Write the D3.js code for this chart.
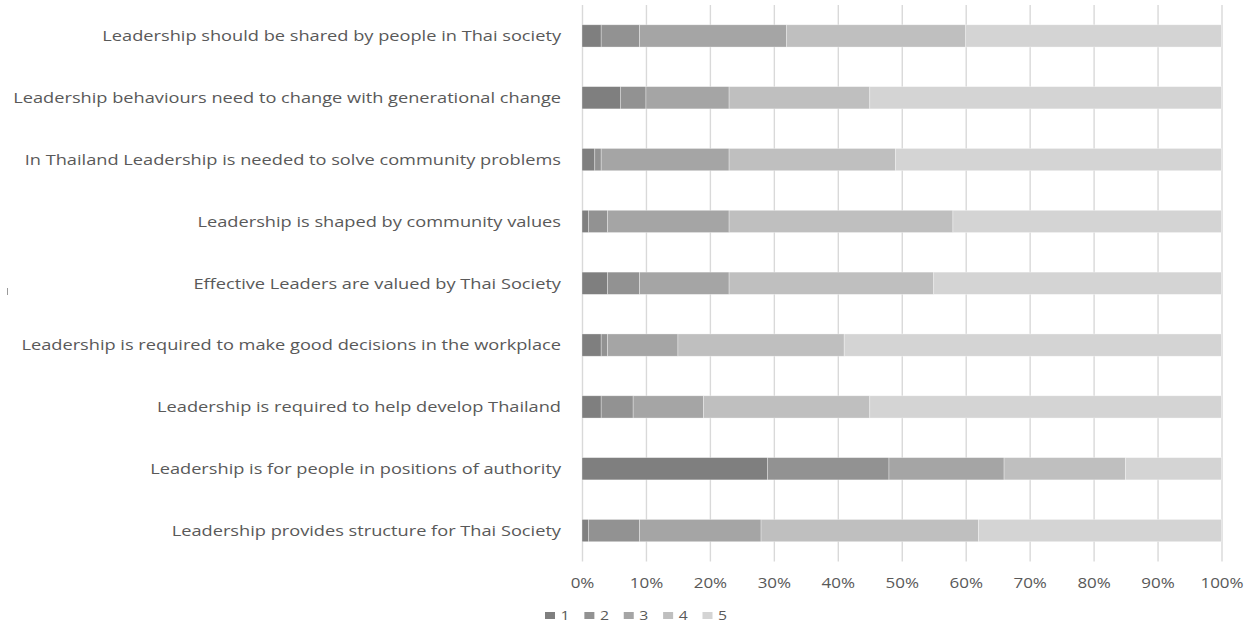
<!DOCTYPE html>
<html>
<head>
<meta charset="utf-8">
<script src="https://cdn.jsdelivr.net/npm/d3@7"></script>
<style>
  html, body { margin: 0; padding: 0; background: #fff; }
  svg { display: block; }
  text { font-family: "Open Sans", "Liberation Sans", sans-serif; fill: #595959; }
</style>
</head>
<body>
<svg id="chart" width="1252" height="623"></svg>
<script>
// Survey statements, listed top to bottom
const statements = [
  "Leadership should be shared by people in Thai society",
  "Leadership behaviours need to change with generational change",
  "In Thailand Leadership is needed to solve community problems",
  "Leadership is shaped by community values",
  "Effective Leaders are valued by Thai Society",
  "Leadership is required to make good decisions in the workplace",
  "Leadership is required to help develop Thailand",
  "Leadership is for people in positions of authority",
  "Leadership provides structure for Thai Society"
];

// Likert rating keys (1 = strongly disagree ... 5 = strongly agree)
const ratings = ["1", "2", "3", "4", "5"];

// Share of responses (%) for each rating, one entry per statement
const rating1 = [3, 6, 2, 1, 4, 3, 3, 29, 1];
const rating2 = [6, 4, 1, 3, 5, 1, 5, 19, 8];
const rating3 = [23, 13, 20, 19, 14, 11, 11, 18, 19];
const rating4 = [28, 22, 26, 35, 32, 26, 26, 19, 34];
const rating5 = [40, 55, 51, 42, 45, 59, 55, 15, 38];

// Axis tick values (%)
const tickValues = [0, 10, 20, 30, 40, 50, 60, 70, 80, 90, 100];

const ratingColors = ["#7f7f7f", "#929292", "#a5a5a5", "#bfbfbf", "#d4d4d4"];

const seriesValues = [rating1, rating2, rating3, rating4, rating5];
const rows = statements.map((s, i) => {
  const r = { statement: s };
  ratings.forEach((k, j) => { r[k] = seriesValues[j][i]; });
  return r;
});

const svg = d3.select("#chart");
const plot = { left: 582, right: 1221.5, top: 5, bottom: 561.5 };

const x = d3.scaleLinear().domain([0, 100]).range([plot.left, plot.right]);
const y = d3.scaleBand().domain(statements)
  .range([plot.top, plot.bottom])
  .paddingInner(0.64).paddingOuter(0.32);
const color = d3.scaleOrdinal().domain(ratings).range(ratingColors);

// Vertical gridlines
svg.append("g")
  .attr("transform", `translate(0,${plot.bottom})`)
  .call(d3.axisBottom(x).tickValues(tickValues).tickSize(-(plot.bottom - plot.top)).tickFormat(""))
  .call(g => g.select(".domain").remove())
  .call(g => g.selectAll(".tick line").attr("stroke", "#d9d9d9").attr("stroke-width", 1.4));

// Stacked bars
const stack = d3.stack().keys(ratings)(rows);
svg.append("g").selectAll("g")
  .data(stack)
  .join("g")
  .attr("fill", d => color(d.key))
  .selectAll("rect")
  .data(d => d)
  .join("rect")
  .attr("x", d => x(d[0]))
  .attr("y", d => y(d.data.statement))
  .attr("width", d => x(d[1]) - x(d[0]))
  .attr("height", y.bandwidth())
  .attr("stroke", "#ffffff")
  .attr("stroke-opacity", 0.45)
  .attr("stroke-width", 0.7);

// Text is drawn wide; one horizontal stretch factor is shared by all labels
const fontSize = 15;
const probe = svg.append("text").attr("font-size", fontSize).text(statements[1]);
const naturalWidth = probe.node().getComputedTextLength();
probe.remove();
const stretch = 548 / naturalWidth;

// Category labels
const yAxis = svg.append("g")
  .attr("transform", `translate(${plot.left},0)`)
  .call(d3.axisLeft(y).tickSize(0).tickPadding(0))
  .call(g => g.select(".domain").remove());
yAxis.selectAll(".tick text")
  .attr("x", null).attr("dy", "0.35em")
  .attr("font-size", fontSize)
  .attr("text-anchor", "end")
  .attr("transform", `translate(-21,0) scale(${stretch},1)`);

// Percentage tick labels
const xAxis = svg.append("g")
  .attr("transform", `translate(0,${plot.bottom})`)
  .call(d3.axisBottom(x).tickValues(tickValues).tickSize(0).tickFormat(d => d + "%"))
  .call(g => g.select(".domain").remove());
xAxis.selectAll(".tick text")
  .attr("y", null).attr("dy", "0.35em")
  .attr("font-size", 14)
  .attr("text-anchor", "middle")
  .attr("transform", `translate(0,21.5) scale(${stretch},1)`);

// Legend
const legendX = d3.scalePoint().domain(ratings).range([545, 702.5]);
const legend = svg.append("g").selectAll("g")
  .data(ratings)
  .join("g")
  .attr("transform", d => `translate(${legendX(d)},615.5)`);
legend.append("rect")
  .attr("x", 0).attr("y", -3.5)
  .attr("width", 10).attr("height", 7)
  .attr("fill", d => color(d));
legend.append("text")
  .attr("x", 0).attr("dy", "0.35em")
  .attr("font-size", 13)
  .attr("transform", `translate(15.5,0) scale(${stretch},1)`)
  .text(d => d);

// Small stray tick at the left edge
svg.append("line")
  .attr("x1", 7.5).attr("x2", 7.5).attr("y1", 288).attr("y2", 295)
  .attr("stroke", "#9a9a9a").attr("stroke-width", 1);
</script>
</body>
</html>
